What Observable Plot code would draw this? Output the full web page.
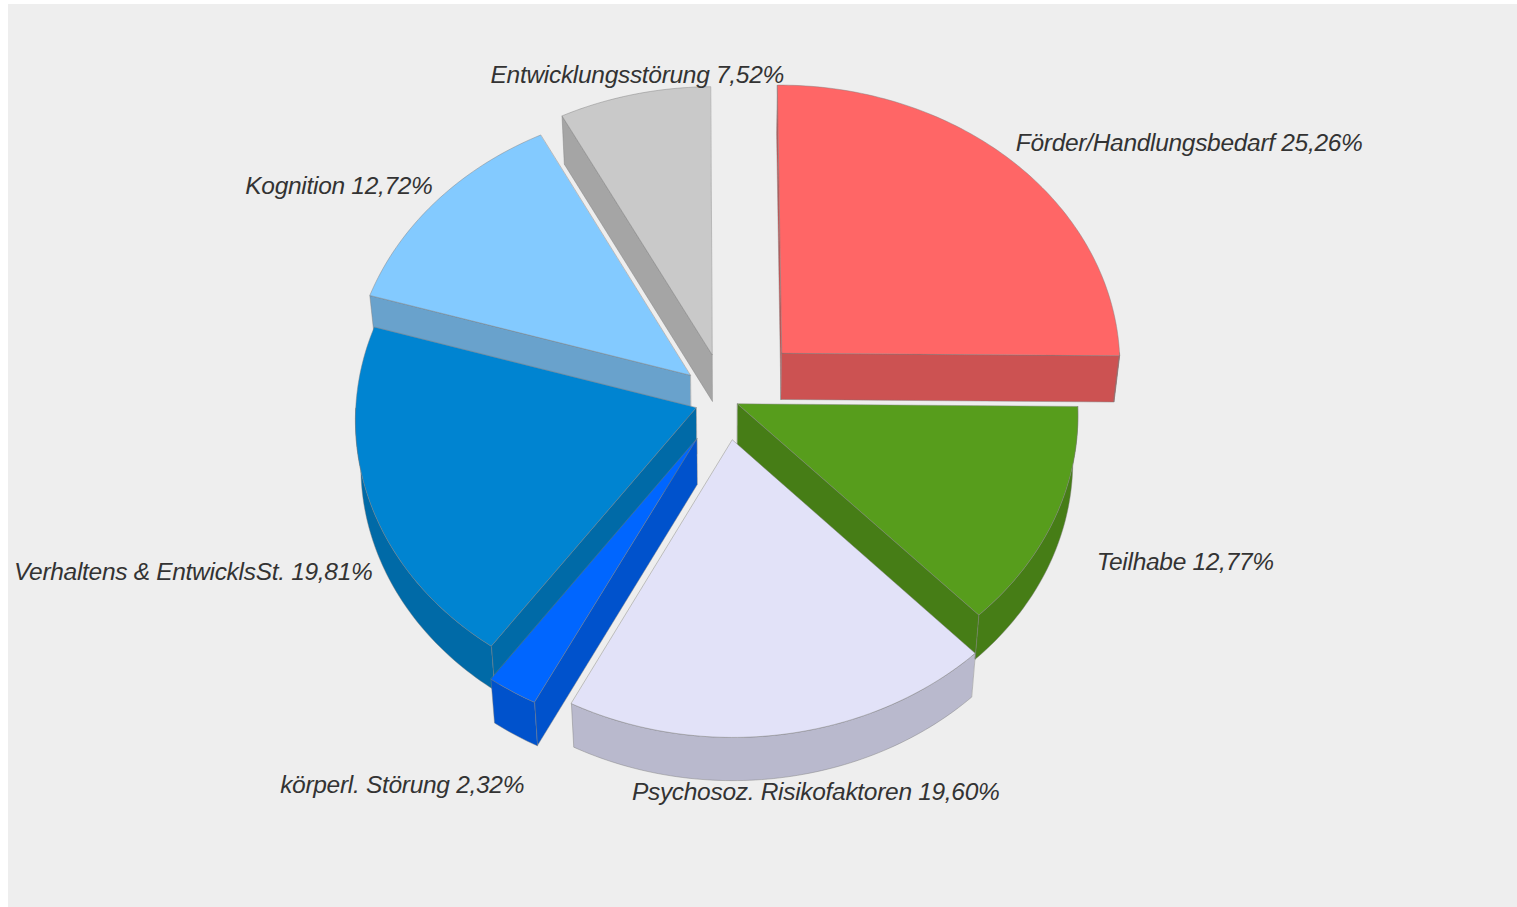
<!DOCTYPE html>
<html>
<head>
<meta charset="utf-8">
<script src="https://cdn.jsdelivr.net/npm/d3@7"></script>
<script src="https://cdn.jsdelivr.net/npm/@observablehq/plot@0.6"></script>
<style>
  html, body { margin: 0; padding: 0; background: #ffffff; }
  #chart { position: absolute; left: 8px; top: 4px; }
  #chart svg text { letter-spacing: -0.3px; }
</style>
</head>
<body>
<div id="chart"></div>
<script>
// ---- data ----
const categories = [
  "Förder/Handlungsbedarf",
  "Teilhabe",
  "Psychosoz. Risikofaktoren",
  "körperl. Störung",
  "Verhaltens & EntwicklsSt.",
  "Kognition",
  "Entwicklungsstörung"
];
const values = [25.26, 12.77, 19.60, 2.32, 19.81, 12.72, 7.52];
const topColors  = ["#ff6666", "#579d1c", "#e2e2f8", "#0066ff", "#0084d1", "#83caff", "#c9c9c9"];
const sideColors = ["#cc5252", "#467d16", "#b9b9cd", "#0052cc", "#006aa7", "#69a2cc", "#a5a5a5"];
const explode = [80, 13, 49, 55, 31, 46, 56];

// ---- layout ----
const W = 1509, H = 903;
const cx = 717, cy = 395;           // pie centre inside the svg
const R = 340, depth = 84;
const cosP = 0.83, sinP = Math.sqrt(1 - cosP * cosP), D = 4735;
const rot = -0.4 * Math.PI / 180;

// label placement relative to the outer mid-angle point of each slice
const labelLayout = [
  {anchor: "start",  dx: 3,  dy: -18},
  {anchor: "start",  dx: 42, dy: 44},
  {anchor: "middle", dx: 32, dy: 58},
  {anchor: "end",    dx: 12, dy: 94},
  {anchor: "end",    dx: 3,  dy: 71},
  {anchor: "end",    dx: -4, dy: -15},
  {anchor: "middle", dx: 3,  dy: -19}
];

function proj(X, Y, Z) {
  const v = Y * cosP - Z * sinP;
  const w = 1 - (Y * sinP + Z * cosP) / D;
  return [X / w, v / w];
}
const dir = t => [Math.sin(t), -Math.cos(t)];

const pie = d3.pie().sort(null).value(d => d)
  .startAngle(rot).endAngle(2 * Math.PI + rot)(values);

const slices = pie.map((p, i) => {
  const a0 = p.startAngle, a1 = p.endAngle, mid = (a0 + a1) / 2;
  const [dxm, dym] = dir(mid);
  const ox = explode[i] * dxm, oy = explode[i] * dym;
  const key = oy + (2 / 3) * R * dym;
  return {i, a0, a1, mid, ox, oy, key};
});

const polys = [];
let pid = 0;
function addPoly(pts3, fill) {
  const id = pid++;
  for (const [X, Y, Z] of pts3) {
    const [x, y] = proj(X, Y, Z);
    polys.push({id, x, y, fill});
  }
}
function arcPts(s, t0, t1, Z) {
  const n = Math.max(2, Math.ceil((t1 - t0) / (Math.PI / 180)));
  const pts = [];
  for (let k = 0; k <= n; k++) {
    const t = t0 + (t1 - t0) * k / n;
    const [u, v] = dir(t);
    pts.push([s.ox + R * u, s.oy + R * v, Z]);
  }
  return pts;
}

const order = slices.slice().sort((a, b) => a.key - b.key);
for (const s of order) {
  const side = sideColors[s.i], top = topColors[s.i];
  // start radial wall
  if (Math.sin(s.a0) < -1e-6) {
    const [u, v] = dir(s.a0);
    addPoly([[s.ox, s.oy, 0], [s.ox + R * u, s.oy + R * v, 0],
             [s.ox + R * u, s.oy + R * v, -depth], [s.ox, s.oy, -depth]], side);
  }
  // end radial wall
  if (Math.sin(s.a1) > 1e-6) {
    const [u, v] = dir(s.a1);
    addPoly([[s.ox, s.oy, 0], [s.ox + R * u, s.oy + R * v, 0],
             [s.ox + R * u, s.oy + R * v, -depth], [s.ox, s.oy, -depth]], side);
  }
  // outer wall (front half only)
  const t0 = Math.max(s.a0, Math.PI / 2), t1 = Math.min(s.a1, 3 * Math.PI / 2);
  if (t1 > t0) {
    addPoly([...arcPts(s, t0, t1, 0), ...arcPts(s, t0, t1, -depth).reverse()], side);
  }
  // top face
  addPoly([[s.ox, s.oy, 0], ...arcPts(s, s.a0, s.a1, 0)], top);
}

const fmt = v => v.toFixed(2).replace(".", ",") + "%";
const labels = slices.map(s => {
  const [u, v] = dir(s.mid);
  const [x, y] = proj(s.ox + R * u, s.oy + R * v, 0);
  return {x, y, text: `${categories[s.i]} ${fmt(values[s.i])}`, i: s.i};
});

const chart = Plot.plot({
  width: W,
  height: H,
  margin: 0,
  x: {domain: [-cx, W - cx], range: [0, W], axis: null},
  y: {domain: [-cy, H - cy], range: [0, H], axis: null},
  color: {type: "identity"},
  style: {background: "#eeeeee", fontFamily: "'Liberation Sans', Arial, sans-serif"},
  marks: [
    Plot.line(polys, {
      x: "x", y: "y", z: "id", fill: "fill",
      stroke: "#7d7d7d", strokeOpacity: 0.55, strokeWidth: 0.8,
      curve: "linear-closed"
    }),
    ...labels.map(d => Plot.text([d], {
      x: "x", y: "y", text: "text",
      textAnchor: labelLayout[d.i].anchor,
      dx: labelLayout[d.i].dx, dy: labelLayout[d.i].dy,
      fontSize: 24.5, fontStyle: "italic", fill: "#333333",
      fontFamily: "'Liberation Sans', Arial, sans-serif"
    }))
  ]
});
document.getElementById("chart").appendChild(chart);
</script>
</body>
</html>
